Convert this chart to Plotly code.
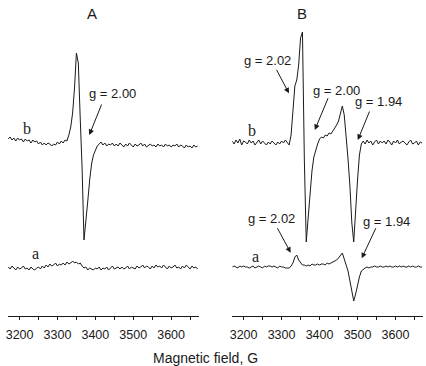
import plotly.graph_objects as go

# Magnetic field sampling grid (G)
FIELD_G = list(range(3170, 3675, 5))  # 3170 ... 3670

# EPR derivative signals (arbitrary units)
A_b = [4, 6, 3, 5, 2, 5, 3, 4, 1, 4,
       2, 3, 0, 3, 1, 2, -1, 1, -2, 0,
       -2, 0, -1, -3, -1, -2, 1, -1, 2, 0,
       3, 2, 8, 16, 30, 55, 90, 80, 25, -25,
       -97, -80, -58, -37, -21, -12, -7, -3, -1, 1,
       -2, 0, -3, -1, -2, 0, -3, -1, -3, 0,
       -2, -4, -1, -3, 0, -2, -4, -1, -3, -2,
       0, -3, -1, -4, -2, -1, -3, -2, -4, -1,
       -3, -2, -4, -1, -3, -2, -4, -2, -3, -1,
       -4, -2, -3, -5, -2, -4, -3, -5, -2, -4,
       -3]
A_a = [1, -1, 2, 0, -2, 1, -1, 0, 2, -1,
       0, -2, 1, -1, -2, 0, 1, -1, 2, 0,
       3, 1, 4, 2, 3, 5, 2, 4, 3, 5,
       3, 6, 4, 5, 7, 5, 6, 4, 5, 2,
       0, 1, -2, 0, -1, -2, 0, -1, 1, -2,
       0, -1, 1, -2, 0, 2, -1, 0, 1, -1,
       1, -1, 0, 2, -1, 1, 0, -1, 2, 0,
       1, 3, 0, 2, 1, -1, 2, 0, 3, 1,
       2, 0, 3, 1, -1, 2, 0, 1, 3, 0,
       1, -1, 2, 0, 3, 1, -1, 2, 0, 1,
       -1]
B_b = [2, -1, 3, 0, 4, -2, 2, 1, -1, 3,
       0, 2, -2, 1, 3, -1, 2, 0, -2, 1,
       -1, 2, 0, -2, 1, -1, 2, 0, 3, 1,
       -2, 8, 30, 57, 63, 78, 105, 111, -17, -99,
       -75, -50, -28, -14, -7, -1, 4, 6, 5, 8,
       7, 10, 9, 12, 14, 18, 22, 30, 37, 28,
       8, -16, -43, -80, -99, -65, -37, -12, -1, 2,
       -1, 3, 0, 2, -2, 1, 3, -1, 2, 0,
       2, -1, 3, 1, -2, 2, 0, 3, -1, 1,
       2, 0, -2, 1, 3, -1, 0, 2, -2, 1,
       0]
B_a = [0, 1, 0, -1, 1, 0, 1, 0, 0, -1,
       0, 1, -1, 0, 1, 0, -1, 1, 0, 1,
       1, 0, 1, 0, -1, 1, 0, 0, -1, -1,
       -1, 1, 4, 10, 12, 7, 4, 2, 2, 1,
       2, 1, 3, 2, 2, 3, 2, 3, 3, 2,
       4, 3, 4, 5, 6, 7, 9, 11, 14, 8,
       2, -4, -14, -26, -34, -27, -18, -10, -4, -2,
       -1, 0, -1, 0, 0, 1, 0, 0, 1, 0,
       0, 1, 0, 1, 0, 0, 1, 0, 1, 0,
       1, 0, 0, 1, 0, 1, 0, 0, 1, 0,
       0]

TICK_VALUES = [3200, 3300, 3400, 3500, 3600]
PANEL_TITLES = ["A", "B"]
X_TITLE = "Magnetic field, G"

# vertical stacking offsets of the traces
OFF_B = 173
OFF_A = 48
OFF_A_B = 49

W, H = 426, 366
INK = "#1a1a1a"
SANS = "Liberation Sans, Arial, Helvetica, sans-serif"
SERIF = "Liberation Serif, Times New Roman, serif"

fig = go.Figure()


def add_trace(vals, off, xa, ya):
    fig.add_trace(go.Scatter(x=FIELD_G, y=[v + off for v in vals], mode="lines",
                             line=dict(color=INK, width=1), xaxis=xa, yaxis=ya,
                             hoverinfo="skip"))


add_trace(A_b, OFF_B, "x", "y")
add_trace(A_a, OFF_A, "x", "y")
add_trace(B_b, OFF_B, "x2", "y2")
add_trace(B_a, OFF_A_B, "x2", "y2")

axis_common = dict(showline=True, linecolor=INK, linewidth=1, ticks="outside",
                   ticklen=3, tickwidth=1, tickcolor=INK, tickvals=TICK_VALUES,
                   minor=dict(dtick=50, tick0=3200, ticks="outside", ticklen=3,
                              tickcolor=INK, showgrid=False),
                   showgrid=False, zeroline=False, ticklabelstandoff=4,
                   tickfont=dict(family=SANS, size=12.5, color=INK))
ydom = [(H - 316) / H, 1]
yaxis_common = dict(domain=ydom, range=[0, 316], visible=False, fixedrange=True)

fig.update_layout(
    width=W, height=H, margin=dict(l=0, r=0, t=0, b=0),
    paper_bgcolor="white", plot_bgcolor="white", showlegend=False,
    xaxis=dict(domain=[5 / W, 197.7 / W], range=[3169.3, 3674.4], anchor="y", **axis_common),
    xaxis2=dict(domain=[231 / W, 423 / W], range=[3170.5, 3672.4], anchor="y2", **axis_common),
    yaxis=dict(anchor="x", **yaxis_common),
    yaxis2=dict(anchor="x2", **yaxis_common),
)

ann = []


def text(x, y, s, xr, yr, font, size):
    ann.append(dict(x=x, y=y, xref=xr, yref=yr, text=s, showarrow=False,
                    font=dict(family=font, size=size, color=INK),
                    xanchor="center", yanchor="middle"))


def arrow(x0, y0, x1, y1, xr, yr):
    ann.append(dict(x=x1, y=y1, ax=x0, ay=y0, xref=xr, yref=yr, axref=xr, ayref=yr,
                    text="", showarrow=True, arrowhead=2, arrowsize=1.1,
                    arrowwidth=1, arrowcolor=INK, standoff=0, startstandoff=0))


# panel titles
text(90 / W, 1 - 13.3 / H, PANEL_TITLES[0], "paper", "paper", SANS, 15)
text(301 / W, 1 - 13.3 / H, PANEL_TITLES[1], "paper", "paper", SANS, 15)
text(204 / W, 1 - 358 / H, X_TITLE, "paper", "paper", SANS, 14)

# trace labels
text(3220.4, 188, "b", "x", "y", SERIF, 16)
text(3241.9, 63, "a", "x", "y", SERIF, 16)
text(3221.4, 186, "b", "x2", "y2", SERIF, 16)
text(3231.4, 60, "a", "x2", "y2", SERIF, 16)

# g-value labels with arrows
GS = 13
text(3444.6, 223, "g = 2.00", "x", "y", SANS, GS)
arrow(3418, 213, 3384, 181, "x", "y")

text(3262, 256, "g = 2.02", "x2", "y2", SANS, GS)
arrow(3284.7, 247.7, 3319.5, 222.7, "x2", "y2")
text(3445.8, 225.5, "g = 2.00", "x2", "y2", SANS, GS)
arrow(3424, 219.3, 3387.5, 186, "x2", "y2")
text(3554, 215, "g = 1.94", "x2", "y2", SANS, GS)
arrow(3533, 206, 3500.7, 176, "x2", "y2")
text(3273.7, 98, "g = 2.02", "x2", "y2", SANS, GS)
arrow(3287, 89.3, 3324, 63.3, "x2", "y2")
text(3576.5, 94.3, "g = 1.94", "x2", "y2", SANS, GS)
arrow(3550, 89.3, 3511, 57.7, "x2", "y2")

fig.update_layout(annotations=ann)
fig.write_html("out.html",
               config={"displayModeBar": False, "staticPlot": True},
               post_script="document.body.style.margin='0px';"
                           "document.body.style.overflow='hidden';")
